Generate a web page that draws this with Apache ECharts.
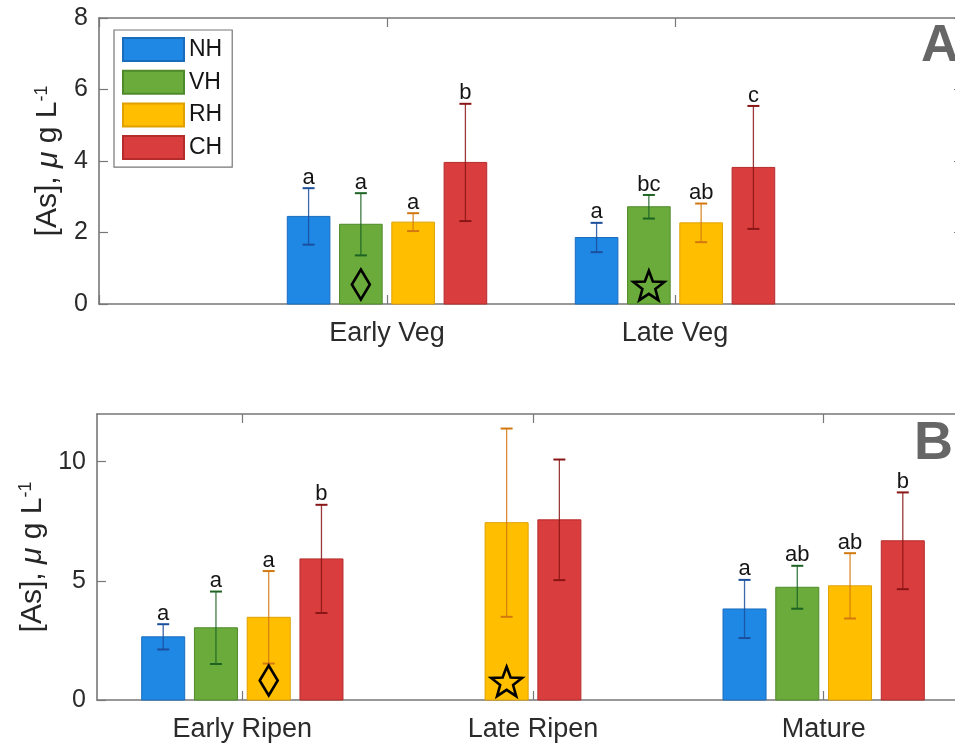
<!DOCTYPE html>
<html>
<head>
<meta charset="utf-8">
<script src="https://cdn.jsdelivr.net/npm/echarts@6/dist/echarts.min.js"></script>
<style>
  html, body { margin: 0; padding: 0; background: #fff; }
  #chart { width: 955px; height: 745px; }
</style>
</head>
<body>
<div id="chart"></div>
<script>
// ---- data -------------------------------------------------------------
const groups = ['NH', 'VH', 'RH', 'CH'];

// Panel A: vegetative stages (blank slots pad the axis at both ends)
const catsA = ['', 'Early Veg', 'Late Veg', ''];
const nhA = [null, 2.45, 1.86, null];
const vhA = [null, 2.23, 2.72, null];
const rhA = [null, 2.29, 2.27, null];
const chA = [null, 3.96, 3.82, null];
const nhErrA = [null, 0.79, 0.41, null];
const vhErrA = [null, 0.87, 0.33, null];
const rhErrA = [null, 0.25, 0.54, null];
const chErrA = [null, 1.64, 1.72, null];
const nhLetA = ['', 'a', 'a', ''];
const vhLetA = ['', 'a', 'bc', ''];
const rhLetA = ['', 'a', 'ab', ''];
const chLetA = ['', 'b', 'c', ''];
const vhMarkA = ['', 'diamond', 'star', ''];

// Panel B: reproductive stages
const catsB = ['Early Ripen', 'Late Ripen', 'Mature'];
const nhB = [2.65, null, 3.82];
const vhB = [3.03, null, 4.73];
const rhB = [3.47, 7.44, 4.79];
const chB = [5.92, 7.56, 6.68];
const nhErrB = [0.53, null, 1.22];
const vhErrB = [1.52, null, 0.90];
const rhErrB = [1.94, 3.95, 1.37];
const chErrB = [2.27, 2.53, 2.03];
const nhLetB = ['a', '', 'a'];
const vhLetB = ['a', '', 'ab'];
const rhLetB = ['a', '', 'ab'];
const chLetB = ['b', '', 'b'];
const rhMarkB = ['diamond', 'star', ''];

const yTicksA = [0, 2, 4, 6, 8];
const yTicksB = [0, 5, 10];

// ---- styling ----------------------------------------------------------
const FONT = 'Liberation Sans';
const fill = { NH: '#1f88e5', VH: '#6aab3b', RH: '#ffbf00', CH: '#da3d3d' };
const edge = { NH: '#1a6cbd', VH: '#4f8a2a', RH: '#e0a000', CH: '#b52c2c' };
const errColor = { NH: '#1b4f9c', VH: '#1d6324', RH: '#d2780f', CH: '#8a1515' };
const AXIS = '#777777';

const panelA = {
  means: { NH: nhA, VH: vhA, RH: rhA, CH: chA },
  errs: { NH: nhErrA, VH: vhErrA, RH: rhErrA, CH: chErrA },
  lets: { NH: nhLetA, VH: vhLetA, RH: rhLetA, CH: chLetA },
  marks: { VH: vhMarkA }
};
const panelB = {
  means: { NH: nhB, VH: vhB, RH: rhB, CH: chB },
  errs: { NH: nhErrB, VH: vhErrB, RH: rhErrB, CH: chErrB },
  lets: { NH: nhLetB, VH: vhLetB, RH: rhLetB, CH: chLetB },
  marks: { RH: rhMarkB }
};

function starPoints(cx, cy, R, r) {
  const pts = [];
  for (let k = 0; k < 10; k++) {
    const rad = k % 2 === 0 ? R : r;
    const a = -Math.PI / 2 + k * Math.PI / 5;
    pts.push([cx + rad * Math.cos(a), cy + rad * Math.sin(a)]);
  }
  return pts;
}

// one custom series per treatment; bars in a stage are centred on its tick
function makeSeries(panel, g, gi) {
  const means = panel.means[g];
  const data = [];
  means.forEach((v, ci) => { if (v != null) data.push([ci, v, panel.errs[g][ci]]); });
  return {
    name: g,
    type: 'custom',
    xAxisIndex: gi * 2,
    yAxisIndex: gi * 2,
    itemStyle: { color: fill[g], borderColor: edge[g], borderWidth: 1 },
    encode: { x: 0, y: 1 },
    data: data,
    renderItem: function (params, api) {
      const ci = api.value(0), mean = api.value(1), err = api.value(2);
      const present = groups.filter(k => panel.means[k][ci] != null);
      const idx = present.indexOf(g), n = present.length;
      const band = api.size([1, 0])[0];
      const pitch = band * 0.1815, w = band * 0.148;
      const base = api.coord([ci, 0]);
      const cx = base[0] + (idx - (n - 1) / 2) * pitch;
      const y0 = base[1];
      const yTop = api.coord([ci, mean])[1];
      const yHi = api.coord([ci, mean + err])[1];
      const yLo = api.coord([ci, mean - err])[1];
      const kids = [
        { type: 'rect', shape: { x: cx - w / 2, y: yTop, width: w, height: y0 - yTop },
          style: { fill: fill[g], stroke: edge[g], lineWidth: 1 } },
        { type: 'line', shape: { x1: cx, y1: yLo, x2: cx, y2: yHi },
          style: { stroke: errColor[g], lineWidth: 1.3, opacity: 0.85 } },
        { type: 'line', shape: { x1: cx - 6, y1: yHi, x2: cx + 6, y2: yHi },
          style: { stroke: errColor[g], lineWidth: 2 } },
        { type: 'line', shape: { x1: cx - 6, y1: yLo, x2: cx + 6, y2: yLo },
          style: { stroke: errColor[g], lineWidth: 2 } }
      ];
      const letter = panel.lets[g][ci];
      if (letter) {
        kids.push({ type: 'text', x: cx, y: yHi + 0.5,
          style: { text: letter, font: '22px "' + FONT + '"', fill: '#151515',
                   align: 'center', verticalAlign: 'bottom' } });
      }
      const mark = panel.marks[g] ? panel.marks[g][ci] : '';
      if (mark === 'diamond') {
        const cy = y0 - 19.5;
        kids.push({ type: 'polygon',
          shape: { points: [[cx, cy - 15], [cx + 9, cy], [cx, cy + 15], [cx - 9, cy]] },
          style: { fill: 'none', stroke: '#000', lineWidth: 2.6, lineJoin: 'miter' } });
      } else if (mark === 'star') {
        kids.push({ type: 'polygon', shape: { points: starPoints(cx, y0 - 17, 16.3, 6.8) },
          style: { fill: 'none', stroke: '#000', lineWidth: 2.6, lineJoin: 'miter' } });
      }
      return { type: 'group', children: kids };
    }
  };
}

function yName() {
  return {
    name: '{t|[As], }{mu|\u03bc}{t| g L}{s|-1}',
    nameLocation: 'middle',
    nameGap: 30,
    nameTextStyle: {
      rich: {
        t: { fontSize: 30, fontFamily: FONT, color: '#262626' },
        mu: { fontSize: 30, fontFamily: FONT, fontStyle: 'italic', color: '#262626' },
        s: { fontSize: 18, fontFamily: FONT, color: '#262626', verticalAlign: 'top' }
      }
    }
  };
}

const axisLine = { show: true, onZero: false, lineStyle: { color: AXIS, width: 1.6 } };
const tick = { show: true, inside: true, length: 9, lineStyle: { color: AXIS, width: 1.2 } };
const tickLabel = { fontSize: 25, fontFamily: FONT, color: '#2b2b2b' };

function xAxes(gi, cats, onBand) {
  return [
    { type: 'category', gridIndex: gi, data: cats, boundaryGap: onBand, position: 'bottom',
      axisLine: axisLine, axisTick: Object.assign({ alignWithLabel: true }, tick),
      axisLabel: Object.assign({ margin: 16, interval: 0 }, tickLabel, { fontSize: 27 }),
      splitLine: { show: false } },
    { type: 'category', gridIndex: gi, data: cats, boundaryGap: onBand, position: 'top',
      axisLine: axisLine, axisTick: Object.assign({ alignWithLabel: true }, tick),
      axisLabel: { show: false }, splitLine: { show: false } }
  ];
}

function yAxes(gi, ticks) {
  const max = gi === 0 ? 8 : 12;
  const step = ticks[1] - ticks[0];
  return [
    Object.assign({ type: 'value', gridIndex: gi, min: 0, max: max, interval: step,
      position: 'left', axisLine: axisLine, axisTick: tick,
      axisLabel: Object.assign({ margin: 11, showMaxLabel: gi === 0 }, tickLabel),
      splitLine: { show: false } }, yName()),
    { type: 'value', gridIndex: gi, min: 0, max: max, interval: step, position: 'right',
      axisLine: axisLine, axisTick: tick, axisLabel: { show: false }, splitLine: { show: false } }
  ];
}

const chart = echarts.init(document.getElementById('chart'), null, { renderer: 'canvas' });
chart.setOption({
  animation: false,
  backgroundColor: '#ffffff',
  grid: [
    { left: 99, top: 18, width: 864, height: 286, outerBoundsMode: 'none', containLabel: false },
    { left: 97, top: 414, width: 872, height: 286, outerBoundsMode: 'none', containLabel: false }
  ],
  xAxis: xAxes(0, catsA, false).concat(xAxes(1, catsB, true)),
  yAxis: yAxes(0, yTicksA).concat(yAxes(1, yTicksB)),
  legend: {
    data: groups, orient: 'vertical', left: 114, top: 30,
    icon: 'rect', itemWidth: 61, itemHeight: 23, itemGap: 7.7,
    selectedMode: false, backgroundColor: '#fff',
    borderColor: AXIS, borderWidth: 1.2, padding: [7, 10, 7, 8],
    textStyle: { fontSize: 23, lineHeight: 23, fontFamily: FONT, color: '#151515' }
  },
  graphic: [
    { type: 'text', x: 921, y: 47, style: { text: 'A', font: 'bold 52px "' + FONT + '"',
      fill: '#666', verticalAlign: 'middle' } },
    { type: 'text', x: 914, y: 444, style: { text: 'B', font: 'bold 54px "' + FONT + '"',
      fill: '#666', verticalAlign: 'middle' } }
  ],
  series: groups.map((g) => makeSeries(panelA, g, 0))
    .concat(groups.map((g) => makeSeries(panelB, g, 1)))
});
</script>
</body>
</html>
